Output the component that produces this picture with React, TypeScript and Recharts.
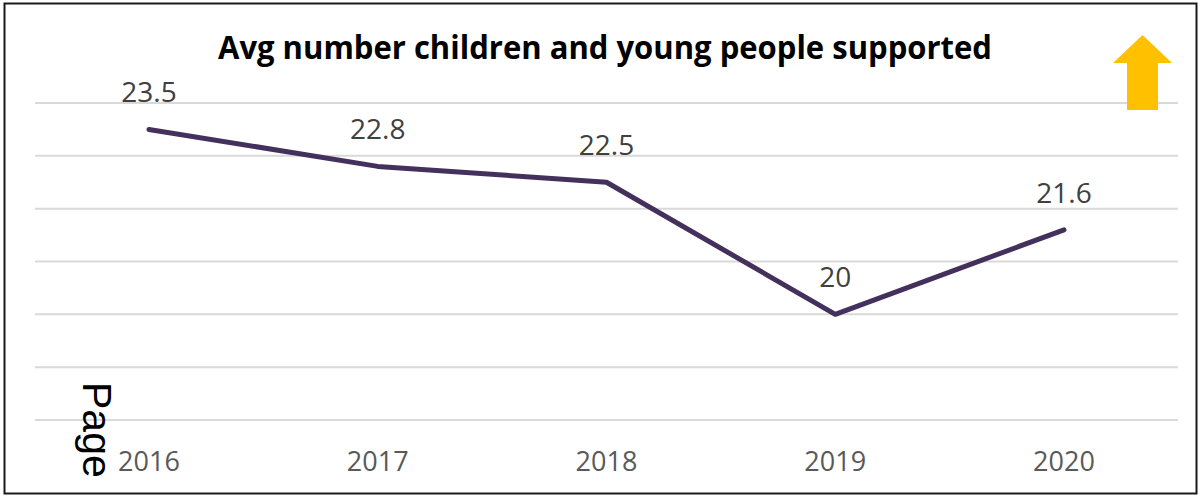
import React from "react";
import {
  LineChart,
  Line,
  XAxis,
  YAxis,
  CartesianGrid,
  LabelList,
} from "recharts";

const years = ["2016", "2017", "2018", "2019", "2020"];
const supported = [23.5, 22.8, 22.5, 20, 21.6];
const yTicks = [18, 19, 20, 21, 22, 23, 24];

const data = years.map((year, i) => ({ year, value: supported[i] }));

const YearTick = (props: any) => {
  const { x, y, payload } = props;
  return (
    <text
      x={x}
      y={y}
      dy={51}
      textAnchor="middle"
      fill="#595959"
      fontSize={27}
      fontFamily="'Open Sans', sans-serif"
    >
      {payload.value}
    </text>
  );
};

const ValueLabel = (props: any) => {
  const { x, y, value } = props;
  return (
    <text
      x={x}
      y={y}
      dy={-27}
      textAnchor="middle"
      fill="#404040"
      fontSize={28}
      fontFamily="'Open Sans', sans-serif"
    >
      {value}
    </text>
  );
};

export default function App() {
  return (
    <div
      style={{
        position: "absolute",
        left: 0,
        top: 0,
        width: 1201,
        height: 496,
        background: "#fff",
      }}
    >
      <LineChart
        width={1201}
        height={496}
        data={data}
        margin={{ top: 103, right: 23, bottom: 16, left: 35 }}
      >
        <CartesianGrid
          vertical={false}
          stroke="#D9D9D9"
          strokeWidth={2}
        />
        <XAxis
          dataKey="year"
          height={60}
          padding={{ left: 114, right: 114 }}
          axisLine={{ stroke: "#D9D9D9", strokeWidth: 2 }}
          tickLine={false}
          tickSize={0}
          tickMargin={0}
          tick={<YearTick />}
        />
        <YAxis hide domain={[18, 24]} ticks={yTicks} />
        <Line
          type="linear"
          dataKey="value"
          stroke="#44305C"
          strokeWidth={5}
          strokeLinecap="round"
          strokeLinejoin="round"
          dot={false}
          activeDot={false}
          isAnimationActive={false}
        >
          <LabelList dataKey="value" content={<ValueLabel />} />
        </Line>
      </LineChart>
      <svg
        width={1201}
        height={496}
        style={{ position: "absolute", left: 0, top: 0, pointerEvents: "none" }}
      >
        <rect
          x={4.5}
          y={3.5}
          width={1192}
          height={490}
          fill="none"
          stroke="#1a1a1a"
          strokeWidth={2}
        />
        <text
          x={605}
          y={59}
          textAnchor="middle"
          fontSize={33}
          fontWeight="bold"
          fill="#000"
          fontFamily="'Open Sans', sans-serif"
          textLength={774}
          lengthAdjust="spacingAndGlyphs"
        >
          Avg number children and young people supported
        </text>
        <polygon
          points="1142.5,35 1172,63 1158,63 1158,110 1127,110 1127,63 1113,63"
          fill="#FFC000"
        />
        <text
          x={83}
          y={382}
          transform="rotate(90, 83, 382)"
          fontSize={41}
          fill="#000"
          fontFamily="'Liberation Sans', Arial, sans-serif"
        >
          Page
        </text>
      </svg>
    </div>
  );
}
